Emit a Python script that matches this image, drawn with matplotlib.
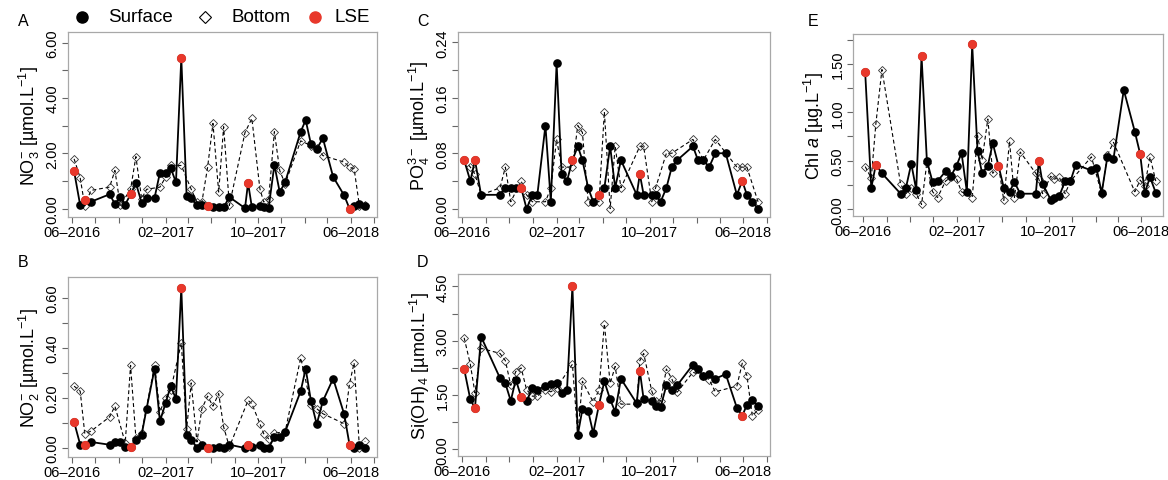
import numpy as np
import matplotlib.pyplot as plt
import matplotlib.dates as mdates
from matplotlib.lines import Line2D
from matplotlib.ticker import FuncFormatter

plt.rcParams["font.family"] = ["Liberation Sans", "DejaVu Sans"]
plt.rcParams["mathtext.fontset"] = "custom"
plt.rcParams["mathtext.rm"] = "Liberation Sans"
plt.rcParams["mathtext.it"] = "Liberation Sans:italic"
plt.rcParams["mathtext.default"] = "regular"

# sampling dates (same for every variable)
SAMPLE_DATES = [
    "2016-06-06", "2016-06-22", "2016-07-04", "2016-07-20", "2016-09-07",
    "2016-09-21", "2016-10-05", "2016-10-18", "2016-11-01", "2016-11-15",
    "2016-11-30", "2016-12-13", "2017-01-03", "2017-01-17", "2017-02-01",
    "2017-02-14", "2017-02-28", "2017-03-14", "2017-03-28", "2017-04-09",
    "2017-04-24", "2017-05-07", "2017-05-22", "2017-06-05", "2017-06-20",
    "2017-07-03", "2017-07-18", "2017-08-28", "2017-09-05", "2017-09-15",
    "2017-10-06", "2017-10-16", "2017-10-29", "2017-11-13", "2017-11-27",
    "2017-12-11", "2018-01-21", "2018-02-03", "2018-02-17", "2018-03-04",
    "2018-03-20", "2018-04-16", "2018-05-15", "2018-05-29", "2018-06-10",
    "2018-06-24", "2018-07-09",
]
# sampling events flagged as LSE
LSE_IDX = [0, 2, 8, 17, 22, 28, 43]

nan = np.nan

# A - nitrate
no3_surface = [1.35, 0.12, 0.33, 0.25, 0.52, 0.17, 0.42, 0.15, 0.52, 0.92,
               0.22, 0.38, 0.40, 1.30, 1.28, 1.48, 0.95, 5.45, 0.45, 0.38,
               0.15, 0.15, 0.08, 0.07, 0.05, 0.05, 0.42, 0.02, 0.93, 0.05,
               0.10, 0.05, 0.04, 1.58, 0.60, 0.95, 2.78, 3.20, 2.32, 2.15,
               2.55, 1.15, 0.48, 0.00, 0.08, 0.18, 0.10]
no3_bottom = [1.80, 1.11, 0.10, 0.66, 0.78, 1.38, 0.12, nan, 0.70, 1.88,
              0.36, 0.70, nan, 0.78, 1.14, 1.56, nan, 1.56, nan, 0.70,
              0.24, 0.24, 1.50, 3.08, 0.60, 2.96, 0.12, 2.75, nan, 3.26,
              0.72, 0.24, 0.36, 2.78, 1.38, 0.90, 2.45, nan, 2.28, 2.20,
              1.92, nan, 1.68, 1.50, 1.44, 0.10, 0.12]

# B - nitrite
no2_surface = [0.104, 0.013, 0.013, 0.024, 0.013, 0.024, 0.024, 0.004, 0.004, 0.033,
               0.053, 0.157, 0.317, 0.107, 0.180, 0.247, 0.197, 0.640, 0.053, 0.033,
               0.000, 0.013, 0.000, 0.000, 0.004, 0.000, 0.013, 0.000, 0.013, 0.004,
               0.013, 0.000, 0.000, 0.044, 0.044, 0.064, 0.227, 0.317, 0.187, 0.095,
               0.187, 0.277, 0.135, 0.013, 0.000, 0.013, 0.000]
no2_bottom = [0.247, 0.227, 0.057, 0.067, 0.124, 0.167, nan, 0.020, 0.330, 0.040,
              0.060, nan, 0.330, 0.145, 0.200, 0.230, nan, 0.420, 0.077, 0.260,
              0.024, 0.157, 0.207, 0.167, 0.217, 0.084, 0.004, nan, 0.190, 0.177,
              0.097, 0.057, 0.037, 0.060, nan, 0.064, 0.360, nan, 0.173, 0.157,
              0.137, nan, 0.097, 0.257, 0.340, 0.000, 0.027]

# C - phosphate
po4_surface = [0.07, 0.04, 0.07, 0.02, 0.02, 0.03, 0.03, 0.03, 0.03, 0.00,
               0.02, 0.02, 0.12, 0.01, 0.21, 0.05, 0.04, 0.07, 0.09, 0.07,
               0.03, 0.01, 0.02, 0.03, 0.09, 0.03, 0.07, 0.02, 0.05, 0.02,
               0.02, 0.02, 0.01, 0.03, 0.06, 0.07, 0.09, 0.07, 0.07, 0.06,
               0.08, 0.08, 0.02, 0.04, 0.02, 0.01, 0.00]
po4_bottom = [0.07, 0.06, 0.05, 0.02, 0.03, 0.06, 0.01, nan, 0.04, 0.02,
              0.01, nan, 0.01, 0.03, 0.10, 0.06, nan, 0.06, 0.12, 0.11,
              0.01, nan, 0.01, 0.14, 0.00, 0.09, 0.03, nan, 0.09, 0.09,
              0.01, 0.03, nan, 0.08, 0.08, nan, 0.10, nan, 0.07, nan,
              0.10, nan, 0.06, 0.06, 0.06, nan, 0.01]

# D - silicate
sioh4_surface = [2.22, 1.38, 1.14, 3.11, 1.97, 1.82, 1.34, 1.93, 1.45, 1.34,
                 1.69, 1.64, 1.76, 1.81, 1.82, 1.55, 1.65, 4.50, 0.40, 1.11,
                 1.06, 0.45, 1.23, 1.88, 1.38, 1.04, 1.95, 1.27, 2.17, 1.38,
                 1.34, 1.20, 1.17, 1.77, 1.64, 1.77, 2.34, 2.22, 2.02, 2.09,
                 1.95, 2.08, 1.15, 0.93, 1.23, 1.36, 1.20]
sioh4_bottom = [3.08, 2.35, 1.56, 2.79, 2.65, 2.45, 1.77, 2.15, 2.25, 1.65,
                1.47, 1.47, 1.65, 1.59, 1.70, nan, nan, 2.35, 0.40, 1.88,
                nan, 1.31, 1.64, 3.47, 1.82, 2.29, 1.25, 1.25, 2.45, 2.65,
                1.61, 1.34, 1.34, 2.22, 1.95, 1.58, 2.13, nan, 2.02, 1.93,
                1.59, nan, 1.75, 2.38, 2.04, 0.93, 1.09]

# E - chlorophyll a
chla_surface = [1.41, 0.22, 0.46, 0.37, 0.16, 0.22, 0.47, 0.20, 1.58, 0.50,
                0.28, 0.29, 0.39, 0.34, 0.45, 0.58, 0.18, 1.70, 0.60, 0.37,
                0.45, 0.68, 0.45, 0.22, 0.18, 0.28, 0.16, 0.16, 0.50, 0.26,
                0.10, 0.12, 0.14, 0.29, 0.29, 0.46, 0.40, 0.43, 0.17, 0.54,
                0.52, 1.23, 0.80, 0.57, 0.17, 0.33, 0.17]
chla_bottom = [0.44, 0.32, 0.88, 1.44, 0.26, 0.16, 0.22, 0.16, 0.05, 0.48,
               0.18, 0.12, 0.29, 0.33, 0.31, 0.18, nan, 0.12, 0.76, 0.51,
               0.93, 0.37, 0.45, 0.09, 0.70, 0.12, 0.59, 0.37, 0.31, 0.16,
               0.34, 0.31, 0.33, 0.16, 0.29, nan, 0.54, nan, 0.16, 0.56,
               0.69, nan, 0.18, 0.30, 0.24, 0.54, 0.29]

PANEL_LETTERS = ["A", "B", "C", "D", "E"]
Y_LABELS = [
    r"NO$_3^{-}$ [µmol.L$^{-1}$]",
    r"NO$_2^{-}$ [µmol.L$^{-1}$]",
    r"PO$_4^{3-}$ [µmol.L$^{-1}$]",
    r"Si(OH)$_4$ [µmol.L$^{-1}$]",
    r"Chl $\mathit{a}$ [µg.L$^{-1}$]",
]
SURFACE = [no3_surface, no2_surface, po4_surface, sioh4_surface, chla_surface]
BOTTOM = [no3_bottom, no2_bottom, po4_bottom, sioh4_bottom, chla_bottom]
Y_STEP = [1.0, 0.1, 0.04, 0.75, 0.25]
Y_TOP_TICK = [6.0, 0.6, 0.24, 4.5, 1.75]
Y_LIMS = [(-0.30, 6.38), (-0.036, 0.683), (-0.012, 0.255), (-0.18, 4.84), (-0.07, 1.807)]
X_LIMS = [("2016-05-21", "2018-08-09")] * 4 + [("2016-05-05", "2018-07-28")]
# axes boxes in pixels: left, top, right, bottom
BOXES = [(68, 33, 377, 218), (68, 278, 377, 458), (458, 33, 770, 218),
         (458, 275, 770, 457), (853, 35, 1163, 217)]
LETTER_POS = [(23, 22), (23, 263), (423, 21), (423, 263), (813, 22)]

W, H = 1168, 481
FRAME = "#a8a8a8"
RED = "#e8382b"

dates = np.array(SAMPLE_DATES, dtype="datetime64[D]")


def month_label(x, pos):
    d = mdates.num2date(x)
    n = (d.year - 2016) * 12 + d.month - 6
    if n % 8 == 0:
        return d.strftime("%m–%Y")
    return ""


def px(x, y):
    # pixel position (from top-left) to figure fraction
    return x / W, 1 - y / H


fig = plt.figure(figsize=(W / 100, H / 100), dpi=100)

for i in range(5):
    l, t, r, b = BOXES[i]
    ax = fig.add_axes([l / W, 1 - b / H, (r - l) / W, (b - t) / H])

    surf = np.array(SURFACE[i], dtype=float)
    bot = np.array(BOTTOM[i], dtype=float)
    ok = ~np.isnan(bot)

    ax.plot(dates[ok], bot[ok], ls=(0, (3.5, 2.5)), lw=0.8, color="black",
            marker="D", ms=4.2, mfc="none", mec="#333333", mew=0.6, zorder=2)
    ax.plot(dates, surf, ls="-", lw=1.3, color="black", marker="o",
            ms=5.2, mfc="black", mec="black", zorder=3)
    ax.plot(dates[LSE_IDX], surf[LSE_IDX], ls="none", marker="o", ms=5.6,
            mfc=RED, mec=RED, zorder=4)

    ax.set_xlim(np.datetime64(X_LIMS[i][0]), np.datetime64(X_LIMS[i][1]))
    ax.set_ylim(*Y_LIMS[i])

    ax.xaxis.set_major_locator(mdates.MonthLocator(bymonth=[2, 4, 6, 8, 10, 12]))
    ax.xaxis.set_major_formatter(FuncFormatter(month_label))

    n_ticks = int(round(Y_TOP_TICK[i] / Y_STEP[i])) + 1
    yt = np.arange(n_ticks) * Y_STEP[i]
    ax.set_yticks(yt)
    ax.set_yticklabels(["%.2f" % v if k % 2 == 0 else "" for k, v in enumerate(yt)],
                       rotation=90, va="center")

    for s in ax.spines.values():
        s.set_color(FRAME)
        s.set_linewidth(0.9)
    ax.tick_params(direction="out", length=4, width=0.8, color="#666666",
                   labelsize=10.5, pad=2)
    ax.set_ylabel(Y_LABELS[i], fontsize=13, labelpad=3)

    fig.text(*px(*LETTER_POS[i]), PANEL_LETTERS[i],
             fontsize=11.5, ha="center", va="center")

# legend drawn by hand so it sits exactly like the original
legend_items = [
    ("Surface", dict(marker="o", ms=8, mfc="black", mec="black"), 82, 108),
    ("Bottom", dict(marker="D", ms=6.5, mfc="none", mec="black", mew=0.8), 205, 231),
    ("LSE", dict(marker="o", ms=8, mfc=RED, mec=RED), 315, 334),
]
for label, style, mx, tx in legend_items:
    x, y = px(mx, 18)
    fig.add_artist(Line2D([x], [y], ls="none", transform=fig.transFigure, **style))
    fig.text(*px(tx, 18), label, fontsize=13.5, ha="left", va="center")

fig.savefig("out.png", dpi=100)
